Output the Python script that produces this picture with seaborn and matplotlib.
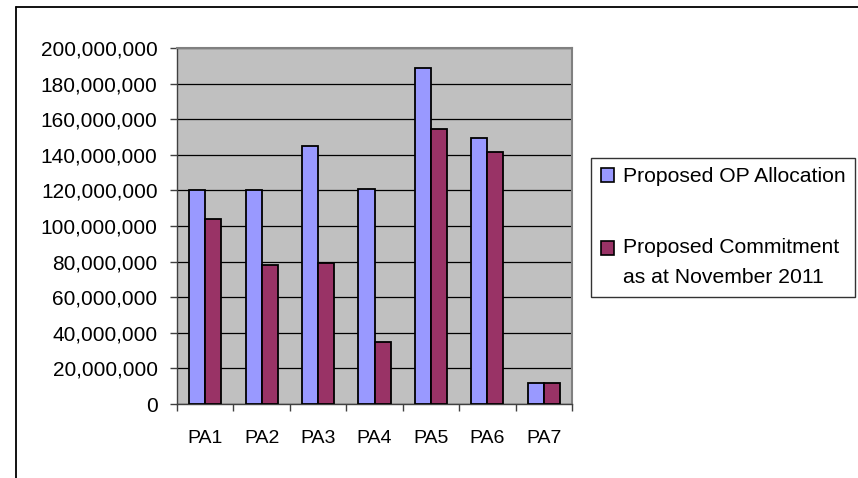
import matplotlib
matplotlib.use("Agg")
import matplotlib.pyplot as plt
import matplotlib.ticker as mticker
from matplotlib.lines import Line2D
from matplotlib.legend_handler import HandlerPatch
import seaborn as sns
import pandas as pd
import numpy as np

categories = ["PA1", "PA2", "PA3", "PA4", "PA5", "PA6", "PA7"]
allocation = [120_000_000, 120_000_000, 145_000_000, 121_000_000, 189_000_000, 149_300_000, 12_000_000]
commitment = [104_000_000, 78_000_000, 79_000_000, 35_000_000, 154_700_000, 141_400_000, 12_000_000]
series_names = ["Proposed OP Allocation", "Proposed Commitment\nas at November 2011"]
colors = ["#9999FF", "#993366"]

df = pd.DataFrame({
    "cat": categories * 2,
    "val": allocation + commitment,
    "series": [series_names[0]] * len(categories) + [series_names[1]] * len(categories),
})

sns.set_style("white")
plt.rcParams["font.family"] = ["Liberation Sans", "DejaVu Sans"]
plt.rcParams["text.color"] = "black"

fig = plt.figure(figsize=(8.58, 4.78), dpi=100)
# outer chart border (only left and top edges visible)
fig.add_artist(Line2D([16 / 858, 16 / 858], [0, 1 - 7 / 478], transform=fig.transFigure,
                      color="black", linewidth=1.3))
fig.add_artist(Line2D([16 / 858, 1], [1 - 7 / 478, 1 - 7 / 478], transform=fig.transFigure,
                      color="black", linewidth=1.3))

ax = fig.add_axes([177 / 858, 74 / 478, 395 / 858, 356 / 478])
ax.set_facecolor("#C0C0C0")

sns.barplot(data=df, x="cat", y="val", hue="series", palette=colors, ax=ax,
            width=0.57, edgecolor="black", linewidth=1.3, saturation=1, errorbar=None,
            zorder=3)

ax.set_ylim(0, 200_000_000)
ax.set_xlim(-0.5, 6.5)
ax.yaxis.set_major_locator(mticker.MultipleLocator(20_000_000))
ax.yaxis.set_major_formatter(mticker.FuncFormatter(lambda v, p: f"{int(v):,}"))
ax.yaxis.grid(True, color="black", linewidth=0.9, zorder=1)
ax.set_axisbelow(True)
ax.set_xlabel("")
ax.set_ylabel("")

ax.xaxis.set_minor_locator(mticker.FixedLocator(np.arange(-0.5, 7, 1)))
ax.tick_params(axis="x", which="major", length=0, labelsize=14, pad=19, colors="black")
ax.tick_params(axis="x", which="minor", length=5, width=1, color="#404040", bottom=True)
ax.tick_params(axis="y", which="major", length=5, width=1, color="#404040", left=True,
               labelsize=15, pad=9, labelcolor="black")

for s in ["left", "bottom"]:
    ax.spines[s].set_color("#404040")
    ax.spines[s].set_linewidth(1)
for s in ["top", "right"]:
    ax.spines[s].set_color("#808080")
    ax.spines[s].set_linewidth(1.5)

FS = 15.2
LS = 1.75


class ShiftedPatchHandler(HandlerPatch):
    def __init__(self, shift=0.0, **kw):
        super().__init__(**kw)
        self.shift = shift

    def create_artists(self, legend, orig_handle, xdescent, ydescent, width, height,
                       fontsize, trans):
        arts = super().create_artists(legend, orig_handle, xdescent, ydescent, width,
                                      height, fontsize, trans)
        for a in arts:
            a.set_y(a.get_y() + self.shift)
        return arts


handles, labels = ax.get_legend_handles_labels()
handler_map = {handles[0]: HandlerPatch(),
               handles[1]: ShiftedPatchHandler(shift=FS * 1.45 / 2)}
leg = ax.legend(handles, labels, handler_map=handler_map,
                loc="upper left", bbox_to_anchor=(591 / 858, 1 - 158 / 478),
                bbox_transform=fig.transFigure, frameon=True, fancybox=False,
                fontsize=FS, handlelength=0.65, handleheight=0.65, handletextpad=0.4,
                labelspacing=2.45, borderpad=0.45, borderaxespad=0)
leg.get_frame().set_edgecolor("black")
leg.get_frame().set_linewidth(1)
for t in leg.get_texts():
    t.set_linespacing(LS)
    t.set_color("black")
for h in leg.legend_handles:
    h.set_edgecolor("black")
    h.set_linewidth(1.2)

fig.savefig("out.png", dpi=100)
